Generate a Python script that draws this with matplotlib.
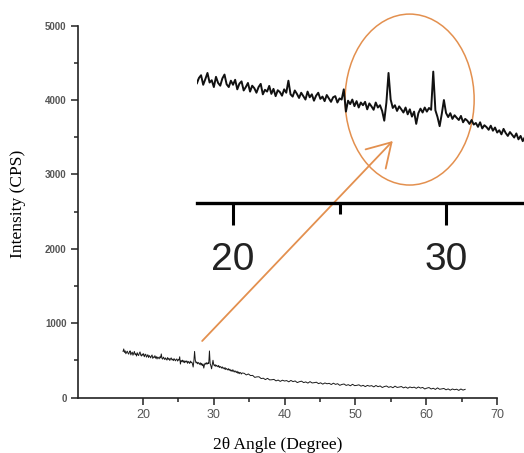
import matplotlib.pyplot as plt
import numpy as np
from matplotlib.patches import Ellipse

# XRD scan, fine steps (0.1 deg) from 17.2 deg
start_fine = 17.2
step_fine = 0.1
counts_fine = [
    622, 655, 608, 630, 590, 612, 625, 598, 585, 616,
    630, 575, 600, 612, 570, 595, 622, 580, 590, 560,
    605, 578, 566, 598, 615, 572, 560, 588, 570, 592,
    550, 575, 585, 545, 560, 578, 540, 566, 555, 535,
    560, 574, 528, 548, 540, 565, 530, 552, 520, 546,
    538, 522, 550, 535, 588, 528, 518, 545, 530, 512,
    535, 520, 505, 540, 515, 528, 500, 522, 535, 508,
    518, 498, 525, 510, 495, 515, 520, 492, 510, 505,
    550, 452, 500, 485, 505, 476, 498, 470, 492, 480,
    495, 462, 488, 475, 460, 492, 470, 480, 455, 412,
    492, 622, 505, 468, 480, 455, 475, 462, 448, 470,
    440, 462, 430, 452, 398, 445, 465, 448, 470, 452,
    468, 460, 628, 458, 428, 388, 442, 503, 446, 428,
    445, 420, 436, 425, 415, 433, 405, 420, 412, 398,
    415, 395, 402, 385, 405, 378, 392, 384, 372, 390,
    368, 382, 360, 370, 352, 376, 358, 345, 362, 350,
    338, 356, 330, 345, 322, 340, 335, 318, 332,
]

# coarser steps (0.3 deg) from 34.3 deg
start_coarse = 34.3
step_coarse = 0.3
counts_coarse = [
    328, 306, 319, 297, 300, 273, 280, 281, 257, 262,
    243, 260, 239, 241, 246, 226, 237, 219, 235, 224,
    230, 213, 232, 216, 225, 203, 215, 222, 203, 212,
    196, 216, 198, 202, 208, 189, 200, 182, 198, 187,
    193, 177, 195, 179, 188, 166, 178, 184, 165, 175,
    160, 180, 162, 166, 173, 155, 166, 149, 165, 155,
    162, 145, 164, 148, 158, 137, 150, 157, 139, 149,
    134, 155, 138, 143, 150, 132, 144, 127, 144, 134,
    142, 126, 144, 129, 138, 117, 129, 136, 117, 127,
    111, 132, 113, 118, 124, 106, 118, 101, 117, 107,
    114, 98, 117, 102, 112,
]

angle = np.concatenate([
    start_fine + step_fine * np.arange(len(counts_fine)),
    start_coarse + step_coarse * np.arange(len(counts_coarse)),
])
counts = np.array(counts_fine + counts_coarse, dtype=float)

x_ticks = [20, 30, 40, 50, 60, 70]
y_ticks = [0, 1000, 2000, 3000, 4000, 5000]
inset_ticks = [20, 30]

orange = "#E3904F"

fig = plt.figure(figsize=(5.24, 4.53), dpi=100)
ax = fig.add_axes([0.1483, 0.1221, 0.8002, 0.8212])

ax.plot(angle, counts, color="#1a1a1a", lw=0.7)
ax.set_xlim(10.8, 70)
ax.set_ylim(0, 5000)
ax.set_xticks(x_ticks)
ax.set_xticks(np.arange(25, 70, 10), minor=True)
ax.set_yticks(y_ticks)
ax.set_yticks(np.arange(500, 5000, 1000), minor=True)

for side in ["top", "right"]:
    ax.spines[side].set_visible(False)
for side in ["left", "bottom"]:
    ax.spines[side].set_linewidth(1.2)
    ax.spines[side].set_color("#222222")

ax.tick_params(which="major", length=5, width=1.1, color="#222222")
ax.tick_params(which="minor", length=3, width=1.1, color="#222222")
ax.tick_params(axis="x", labelsize=9, labelcolor="#555555", pad=3)
ax.tick_params(axis="y", labelsize=7, labelcolor="#555555", pad=3)
for lab in ax.get_xticklabels() + ax.get_yticklabels():
    lab.set_family("Liberation Sans")
for lab in ax.get_yticklabels():
    lab.set_fontweight("bold")

ax.set_xlabel("2θ Angle (Degree)", family="Liberation Serif", fontsize=12.5)
ax.set_ylabel("Intensity (CPS)", family="Liberation Serif", fontsize=12.5)
ax.xaxis.set_label_coords(0.478, -0.105)
ax.yaxis.set_label_coords(-0.123, 0.522)

# enlarged view of the 18-34 deg region
ins = fig.add_axes([0.376, 0.5519, 0.624, 0.3598])
ins.patch.set_visible(False)
ins.plot(angle, counts, color="#111111", lw=1.4)
ins.set_xlim(18.31, 33.66)
ins.set_ylim(50, 767)
for side in ["top", "right", "left"]:
    ins.spines[side].set_visible(False)
ins.spines["bottom"].set_linewidth(2.4)
ins.set_yticks([])
ins.set_xticks(inset_ticks)
ins.set_xticks([25], minor=True)
ins.tick_params(which="major", length=16, width=2.2, pad=12,
                labelsize=28, labelcolor="#222222")
ins.tick_params(which="minor", length=8, width=2.2)
for lab in ins.get_xticklabels():
    lab.set_family("Liberation Sans")

ins.add_patch(Ellipse((28.29, 505), 6.06, 752, fill=False,
                      edgecolor=orange, lw=1.1, clip_on=False))

ax.annotate(
    "", xy=(55.28, 3450), xytext=(28.37, 762),
    arrowprops=dict(arrowstyle="->,head_length=0.83,head_width=0.5",
                    mutation_scale=20, lw=1.3, color=orange,
                    shrinkA=0, shrinkB=0),
)

fig.savefig("out.png", dpi=100)
